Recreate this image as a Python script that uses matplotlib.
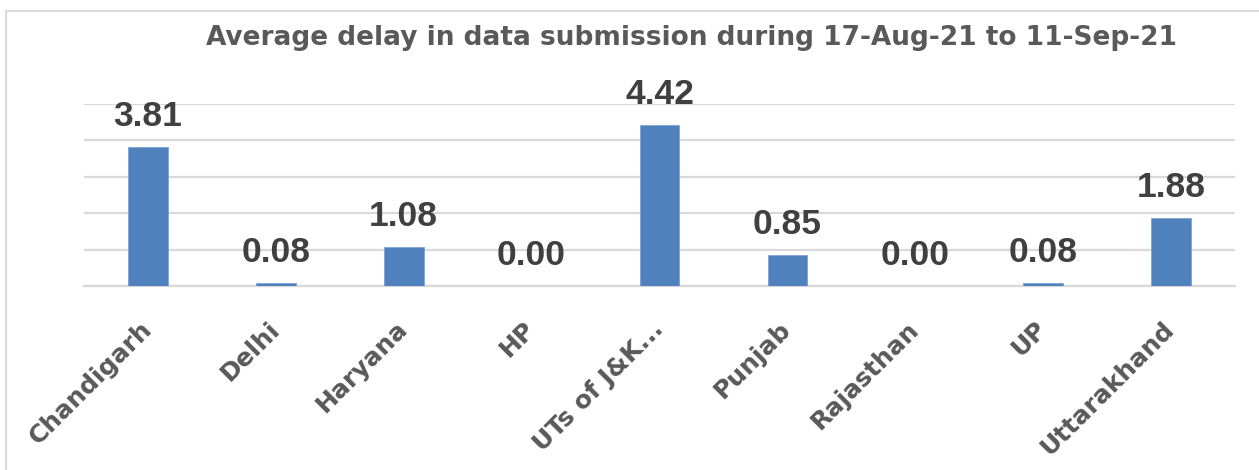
import matplotlib
matplotlib.use("Agg")
import matplotlib.pyplot as plt
from matplotlib.patches import Rectangle

categories = ["Chandigarh", "Delhi", "Haryana", "HP", "UTs of J&K...", "Punjab",
              "Rajasthan", "UP", "Uttarakhand"]
values = [3.81, 0.08, 1.08, 0.00, 4.42, 0.85, 0.00, 0.08, 1.88]
value_labels = ["3.81", "0.08", "1.08", "0.00", "4.42", "0.85", "0.00", "0.08", "1.88"]
title = "Average delay in data submission during 17-Aug-21 to 11-Sep-21"

W, H = 1259, 470
fig = plt.figure(figsize=(W / 100, H / 100), dpi=100)
ax = fig.add_axes([84 / W, 1 - 286.3 / H, (1235 - 84) / W, (286.3 - 103.7) / H])

x = list(range(len(categories)))
ax.bar(x, values, width=0.31, color="#4F81BD", edgecolor="#7FA3D3", linewidth=0.6, zorder=3)
ax.set_xlim(-0.5, len(categories) - 0.5)
ax.set_ylim(0, 5)
ax.set_yticks([0, 1, 2, 3, 4, 5])
ax.yaxis.grid(True, color="#D9D9D9", linewidth=1.6, zorder=0)
ax.set_yticklabels([])
ax.tick_params(axis="y", length=0)
ax.tick_params(axis="x", length=0, pad=28)
for s in ["top", "right", "left"]:
    ax.spines[s].set_visible(False)
ax.spines["bottom"].set_color("#D9D9D9")
ax.spines["bottom"].set_linewidth(1.6)

ax.set_xticks(x)
ax.set_xticklabels(categories, rotation=45, ha="right", va="center", rotation_mode="anchor",
                   fontsize=18, fontweight="bold", color="#595959", family="DejaVu Sans")

for xi, v, lbl in zip(x, values, value_labels):
    ax.annotate(lbl, (xi, v), xytext=(0, 10), textcoords="offset points",
                ha="center", va="bottom", fontsize=25.5, fontweight="bold",
                color="#404040", family="Liberation Sans", clip_on=False)

fig.text(691 / W, 1 - 38 / H, title, ha="center", va="center", fontsize=19,
         fontweight="bold", color="#595959", family="DejaVu Sans")

fig.patches.append(Rectangle((6 / W, -0.1), 1.2, 1 - 11 / H + 0.1, transform=fig.transFigure,
                             fill=False, edgecolor="#D9D9D9", linewidth=1.5))

fig.savefig("out.png", dpi=100)
